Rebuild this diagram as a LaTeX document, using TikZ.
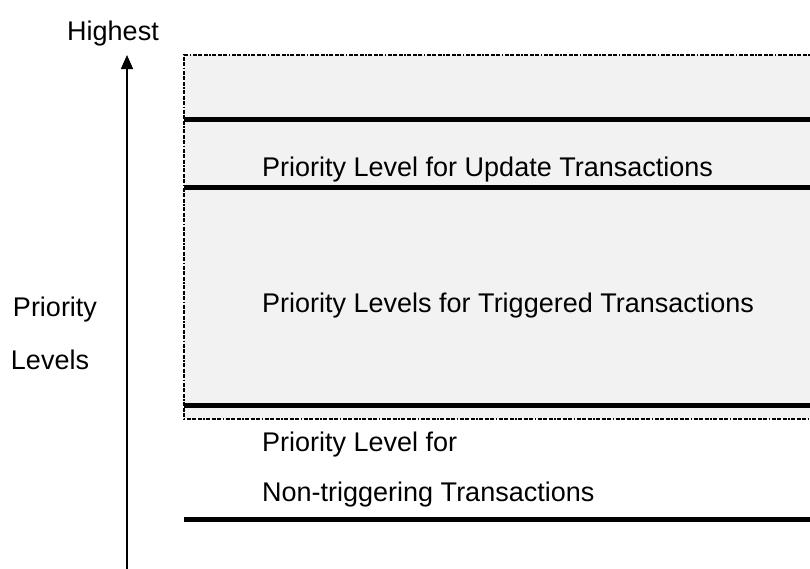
\documentclass[tikz,border=0pt]{standalone}
\usepackage{fontspec}
\setmainfont{Liberation Sans}
\usetikzlibrary{arrows.meta}
\begin{document}
\begin{tikzpicture}[x=1pt,y=-1pt,
  lbl/.style={anchor=west,inner sep=0pt,font=\fontsize{27}{30}\selectfont},
  sidelbl/.style={inner sep=0pt,font=\fontsize{27}{30}\selectfont},
  band/.style={line width=5pt},
  frame/.style={draw=black,line width=1.6pt,
    dash pattern=on 4pt off 1.5pt on 4pt off 1.5pt on 4pt off 1.5pt on 1.5pt off 1.5pt}]
\useasboundingbox (0,0) rectangle (810,568);
% shaded range of the trigger-related levels
\fill[black!5] (184,55) rectangle (812,419);
\draw[frame] (812,55) -- (184,55) -- (184,419) -- (812,419);
% level separators
\coordinate (s1a) at (184,119); \coordinate (s1b) at (812,119);
\coordinate (s2a) at (184,187); \coordinate (s2b) at (812,187);
\coordinate (s3a) at (184,405); \coordinate (s3b) at (812,405);
\coordinate (s4a) at (184,519); \coordinate (s4b) at (812,519);
\draw[band] (s1a) -- (s1b);
\draw[band] (s2a) -- (s2b);
\draw[band] (s3a) -- (s3b);
\draw[band] (s4a) -- (s4b);
% priority axis
\coordinate (axb) at (127,570);
\coordinate (axt) at (127,55);
\draw[line width=1.5pt,-{Triangle[length=14pt,width=12pt]}] (axb) -- (axt);
\node[sidelbl] (hi) at (113,34) {Highest};
\node[sidelbl] (pr) at (55,310) {Priority};
\node[sidelbl] (lv) at (50,360) {Levels};
% level labels
\node[lbl] (upd) at (262,170) {Priority Level for Update Transactions};
\node[lbl] (trg) at (262,306) {Priority Levels for Triggered Transactions};
\node[lbl] (nt1) at (262,445) {Priority Level for};
\node[lbl] (nt2) at (262,495) {Non-triggering Transactions};
\end{tikzpicture}
\end{document}
